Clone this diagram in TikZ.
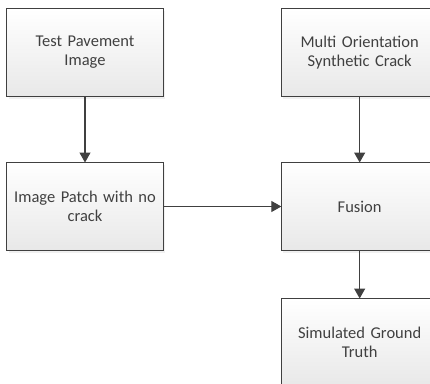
\documentclass[tikz,border=0pt]{standalone}
\usepackage{fontspec}
\setmainfont{Carlito}
\usetikzlibrary{positioning,shadows,arrows.meta}

\begin{document}
\begin{tikzpicture}[x=1pt,y=-1pt]
        \tikzstyle{every node}=[font=\fontsize{16.5}{19}\selectfont, text=black!75]
        \tikzstyle{block}=[draw=black!75, line width=1.1pt, top color=white, bottom color=black!9,
            minimum width=154pt, minimum height=88pt, text width=150pt, align=center, outer sep=0pt,
            drop shadow={opacity=0.12, shadow xshift=2pt, shadow yshift=-2pt}]
        \tikzstyle{flow}=[draw=black!75, line width=1.1pt, -{Triangle[length=10pt, width=11pt]}]

        \clip (0,0) rectangle (430,383);

        \node[block] (pavement) at (85,52.5) {Test Pavement\\Image};
        \node[block] (patch)    [below=66pt of pavement] {Image Patch with no\\crack};
        \node[block] (synth)    [right=118pt of pavement] {Multi Orientation\\Synthetic Crack};
        \node[block] (fusion)   [below=66pt of synth] {Fusion};
        \node[block] (truth)    [below=48pt of fusion] {Simulated Ground\\Truth};

        \draw[flow] (pavement) -- (patch);
        \draw[flow] (synth) -- (fusion);
        \draw[flow] (patch) -- (fusion);
        \draw[flow] (fusion) -- (truth);

    \end{tikzpicture}
\end{document}
